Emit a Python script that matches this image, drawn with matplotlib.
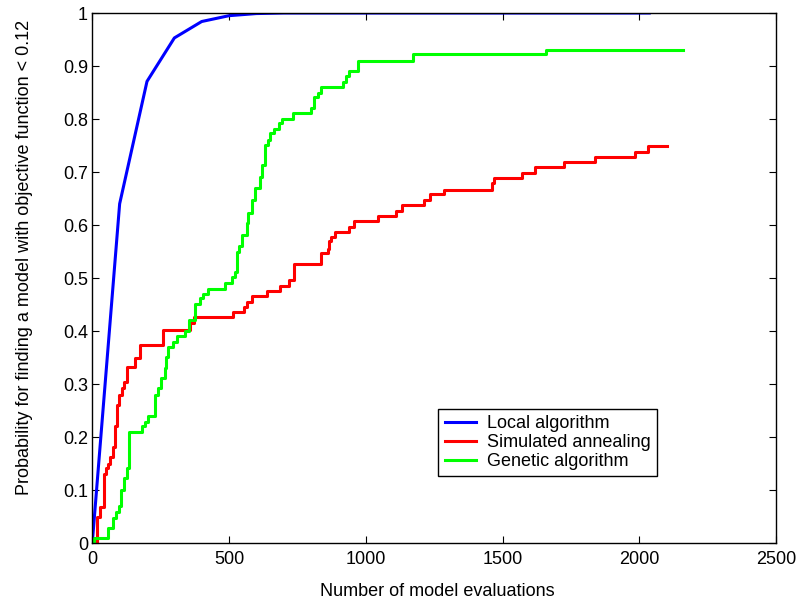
import matplotlib
matplotlib.use("Agg")
import matplotlib.pyplot as plt

plt.rcParams['font.family'] = ['Liberation Sans', 'DejaVu Sans']

# Local algorithm (piecewise linear)
local_x = [0, 100, 200, 300, 400, 500, 600, 700, 800, 2036]
local_y = [0, 0.64, 0.871, 0.953, 0.984, 0.995, 0.999, 1.0, 1.0, 1.0]

# Simulated annealing (step, post)
sa_x = [0, 17, 29, 41, 50, 57, 65, 77, 84, 90, 96, 108, 117, 126, 157, 174, 259, 356, 372,
        516, 553, 565, 583, 638, 687, 720, 736, 836, 860, 867, 873, 888, 938, 958, 1043,
        1110, 1132, 1213, 1235, 1287, 1461, 1470, 1570, 1620, 1723, 1839, 1985, 2030, 2100]
sa_y = [0, 0.05, 0.068, 0.131, 0.141, 0.15, 0.163, 0.182, 0.22, 0.26, 0.28, 0.292, 0.304, 0.333,
        0.349, 0.374, 0.402, 0.415, 0.426, 0.435, 0.446, 0.455, 0.466, 0.476, 0.485, 0.496,
        0.526, 0.547, 0.555, 0.569, 0.577, 0.587, 0.597, 0.607, 0.617, 0.627, 0.638, 0.647,
        0.658, 0.667, 0.679, 0.688, 0.698, 0.709, 0.718, 0.729, 0.738, 0.749, 0.749]

# Genetic algorithm (step, post)
ga_x = [0, 5, 59, 77, 86, 96, 106, 117, 126, 135, 181, 193, 205, 229, 241, 253, 265, 271, 277,
        295, 311, 338, 352, 374, 377, 392, 405, 423, 486, 510, 520, 528, 537, 546, 565, 571,
        583, 596, 613, 620, 632, 644, 651, 663, 681, 693, 733, 799, 811, 826, 836, 918, 928,
        940, 971, 1171, 1660, 2160]
ga_y = [0, 0.01, 0.029, 0.047, 0.059, 0.069, 0.1, 0.122, 0.141, 0.21, 0.22, 0.229, 0.24, 0.279,
        0.292, 0.311, 0.33, 0.351, 0.37, 0.38, 0.391, 0.40, 0.421, 0.436, 0.451, 0.462, 0.47,
        0.48, 0.491, 0.502, 0.512, 0.55, 0.56, 0.581, 0.603, 0.622, 0.647, 0.669, 0.691, 0.713,
        0.751, 0.76, 0.773, 0.782, 0.792, 0.80, 0.811, 0.82, 0.841, 0.85, 0.861, 0.87, 0.881,
        0.89, 0.91, 0.922, 0.931, 0.931]

x_ticks = [0, 500, 1000, 1500, 2000, 2500]
y_ticks = [0, 0.1, 0.2, 0.3, 0.4, 0.5, 0.6, 0.7, 0.8, 0.9, 1]
y_tick_labels = ['0', '0.1', '0.2', '0.3', '0.4', '0.5', '0.6', '0.7', '0.8', '0.9', '1']

fig = plt.figure(figsize=(7.99, 6.03), dpi=100)
ax = fig.add_axes([0.1155, 0.0995, 0.856, 0.8789])

ax.plot(local_x, local_y, color=(0, 0, 1), lw=2.2, label='Local algorithm')
ax.plot(sa_x, sa_y, color=(1, 0, 0), lw=2.2, drawstyle='steps-post', label='Simulated annealing')
ax.plot(ga_x, ga_y, color=(0, 1, 0), lw=2.2, drawstyle='steps-post', label='Genetic algorithm')

ax.set_xlim(0, 2500)
ax.set_ylim(0, 1)
ax.set_xticks(x_ticks)
ax.set_xticklabels([str(t) for t in x_ticks])
ax.set_yticks(y_ticks)
ax.set_yticklabels(y_tick_labels)
ax.tick_params(direction='in', top=True, right=True, length=5, width=0.8, labelsize=13)
ax.tick_params(axis='x', pad=6)
ax.tick_params(axis='y', pad=3)
for s in ax.spines.values():
    s.set_linewidth(1.0)

ax.set_xlabel('Number of model evaluations', fontsize=13)
ax.xaxis.set_label_coords(0.505, -0.076)
ax.set_ylabel('Probability for finding a model with objective function < 0.12', fontsize=13)
ax.yaxis.set_label_coords(-0.087, 0.538)

leg = ax.legend(loc='lower left', bbox_to_anchor=(0.506, 0.126), fontsize=13, frameon=True,
                fancybox=False, edgecolor='black', framealpha=1, borderpad=0.35,
                labelspacing=0.1, handlelength=1.75, handletextpad=0.6, borderaxespad=0)
leg.get_frame().set_linewidth(1.0)

fig.savefig('out.png', dpi=100)
